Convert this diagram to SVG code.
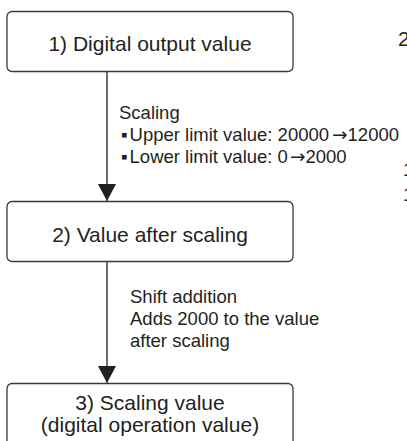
<svg xmlns="http://www.w3.org/2000/svg" width="407" height="441" viewBox="0 0 407 441">
<style>
.box{fill:#fff;stroke:#3a3a3a;stroke-width:1.3}
.t{font-family:"Liberation Sans",Arial,sans-serif;font-size:21px;fill:#231f20;text-anchor:middle}
.l{font-family:"Liberation Sans",Arial,sans-serif;font-size:18.5px;fill:#231f20}
.ar{font-family:"DejaVu Sans","Liberation Sans",sans-serif}
.c{stroke:#231f20;stroke-width:1.3;fill:none}
</style>
<defs>
<marker id="ah" markerUnits="userSpaceOnUse" markerWidth="18" markerHeight="18" refX="17" refY="9" orient="auto">
<path d="M0,0 L17,9 L0,18 Z" fill="#231f20"/>
</marker>
</defs>
<rect width="407" height="441" fill="#fff"/>
<g id="connectors">
<line class="c" x1="107" y1="72" x2="107" y2="201" marker-end="url(#ah)"/>
<line class="c" x1="107" y1="262" x2="107" y2="383" marker-end="url(#ah)"/>
</g>
<g id="node1">
<rect class="box" x="7" y="11.5" width="286" height="60" rx="5"/>
<text class="t" x="150" y="51">1) Digital output value</text>
</g>
<g id="node2">
<rect class="box" x="7" y="201.5" width="286" height="60" rx="5"/>
<text class="t" x="150" y="242">2) Value after scaling</text>
</g>
<g id="node3">
<rect class="box" x="7" y="383.5" width="286" height="70" rx="5"/>
<text class="t" x="150" y="410">3) Scaling value</text>
<text class="t" x="150" y="432">(digital operation value)</text>
</g>
<g id="label1">
<text class="l" x="119" y="119">Scaling</text>
<text class="l" x="121" y="141">▪<tspan dx="2">Upper limit value: 20000</tspan><tspan class="ar" dx="3">→</tspan>12000</text>
<text class="l" x="121" y="163">▪<tspan dx="2">Lower limit value: 0</tspan><tspan class="ar" dx="2">→</tspan>2000</text>
</g>
<g id="label2">
<text class="l" x="130" y="303">Shift addition</text>
<text class="l" x="130" y="325">Adds 2000 to the value</text>
<text class="l" x="130" y="347">after scaling</text>
</g>
<g id="edge-fragments">
<text class="t" x="398" y="46" style="text-anchor:start">2</text>
<text class="l" x="403" y="176">1</text>
<text class="l" x="403" y="201">1</text>
</g>
</svg>
